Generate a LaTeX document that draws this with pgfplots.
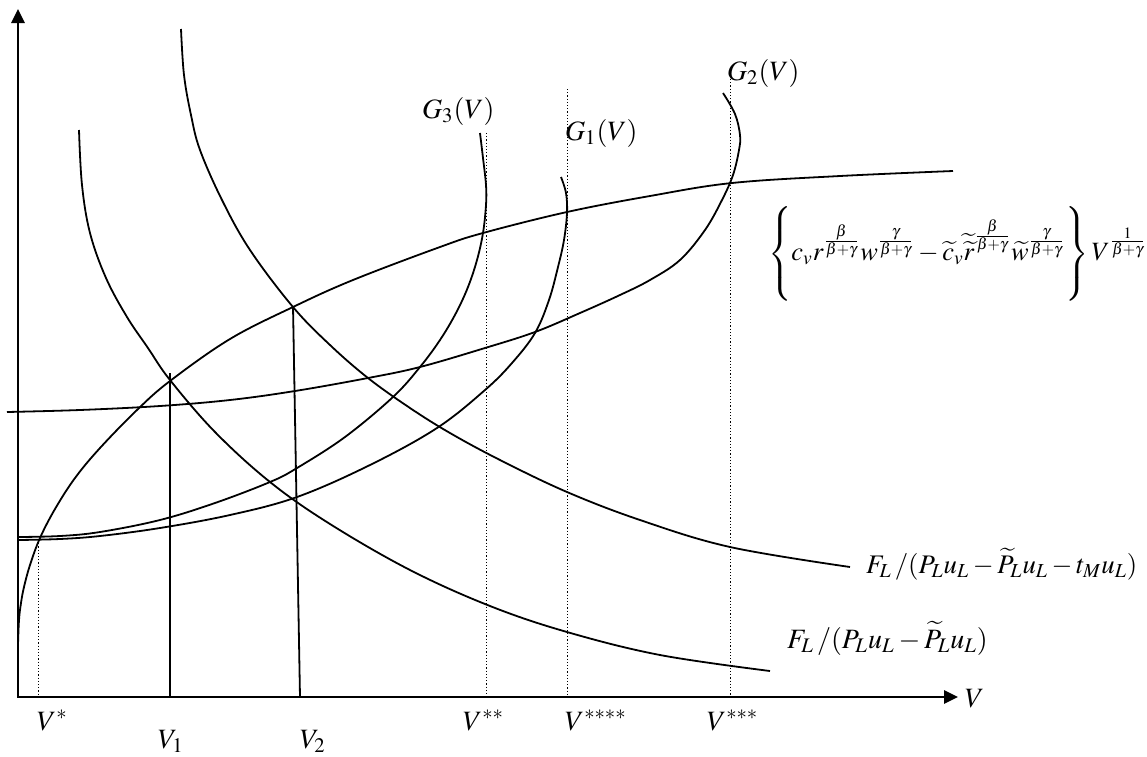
\documentclass[border=0pt]{standalone}
\usepackage{mathptmx}
\usepackage[no-math]{fontspec}
\setmainfont{Liberation Serif}
\usepackage{pgfplots}
\pgfplotsset{compat=1.18}
\usetikzlibrary{arrows.meta}

\tikzset{lbl/.style={font=\fontsize{14}{17}\selectfont, inner sep=0pt, outer sep=0pt}}

\begin{document}
\fontsize{14}{17}\selectfont
\begin{tikzpicture}
\begin{axis}[
  name=ax,
  hide axis,
  scale only axis,
  width=573.5pt, height=378pt,
  xmin=0, xmax=1147, ymin=0, ymax=756,
  y dir=reverse,
  clip=false,
  every axis plot/.append style={black, line width=0.9pt, mark=none},
]
% axes
\addplot[line width=1.3pt, {Triangle[length=7pt,width=6.5pt]}-{Triangle[length=7pt,width=6.5pt]}]
  coordinates {(18,9) (18,697) (958,697)};

% concave revenue curve
\addplot[smooth, tension=0.6] coordinates {
  (18,645) (19,620) (21,603) (24,587) (30,565) (40,538) (55,509) (75,478)
  (100,448) (137,410) (170,381) (230,339) (293,307) (353,280) (440,247)
  (483,233) (567,212) (650,196) (732,183) (840,176) (953,171)};

% G_2(V)
\addplot[smooth, tension=0.6] coordinates {
  (7,412) (80,410) (160,406) (230,400) (295,391) (368,378) (420,367)
  (485,348) (535,332) (580,313) (620,295) (650,280) (680,260) (705,230)
  (722,200) (733,175) (739,150) (740,135) (735,114) (723,93)};

% G_1(V)
\addplot[smooth, tension=0.6] coordinates {
  (18,540) (60,539) (100,536) (160,528) (230,515) (297,497) (370,465)
  (437,428) (485,390) (512,363) (535,333) (549,300) (558,267) (564,240)
  (567,213) (566,193) (561,177)};

% G_3(V)
\addplot[smooth, tension=0.6] coordinates {
  (18,537) (60,536) (100,532) (160,520) (215,503) (270,482) (297,468)
  (345,437) (393,397) (420,367) (440,340) (456,313) (468,287) (477,260)
  (483,233) (486,205) (486,185) (483,158) (480,133)};

% F_L/(P_L u_L - P~_L u_L)
\addplot[smooth, tension=0.6] coordinates {
  (79,130) (82,185) (90,233) (106,278) (127,317) (148,348) (170,380)
  (215,432) (270,482) (330,524) (410,570) (490,606) (567,632) (660,655)
  (770,671)};

% F_L/(P_L u_L - P~_L u_L - t_M u_L)
\addplot[smooth, tension=0.6] coordinates {
  (181,29) (184,75) (191,115) (200,150) (222,200) (250,250) (293,307)
  (330,345) (368,378) (410,408) (450,433) (500,460) (567,492) (640,520)
  (730,547) (850,567)};

% V_1 and V_2
\addplot[line width=0.9pt] coordinates {(170,373) (170,697)};
\addplot[line width=0.9pt] coordinates {(293,306) (300,697)};

% dotted guides
\addplot[line width=0.5pt, dash pattern=on 0.6pt off 1pt] coordinates {(38,540) (38,697)};
\addplot[line width=0.5pt, dash pattern=on 0.6pt off 1pt] coordinates {(486,133) (486,697)};
\addplot[line width=0.5pt, dash pattern=on 0.6pt off 1pt] coordinates {(567,89) (567,697)};
\addplot[line width=0.5pt, dash pattern=on 0.6pt off 1pt] coordinates {(730,79) (730,697)};

% curve labels
\node[lbl, anchor=base west] at (axis cs:422,118) {$G_3(V)$};
\node[lbl, anchor=base west] at (axis cs:565,140) {$G_1(V)$};
\node[lbl, anchor=base west] at (axis cs:727,80) {$G_2(V)$};
\node[lbl, font=\fontsize{13.2}{16}\selectfont, anchor=west] at (axis cs:768,254)
  {$\left\{\rule[-20pt]{0pt}{42pt} c_v r^{\frac{\beta}{\beta+\gamma}} w^{\frac{\gamma}{\beta+\gamma}}
   - \widetilde{c}_v \widetilde{\widetilde{r}}^{\frac{\beta}{\beta+\gamma}}
   \widetilde{w}^{\frac{\gamma}{\beta+\gamma}} \right\} V^{\frac{1}{\beta+\gamma}}$};
\node[lbl, font=\fontsize{13.4}{16}\selectfont, anchor=base west] at (axis cs:866,573)
  {$F_L\,/(P_L u_L - \widetilde{P}_L u_L - t_M u_L)$};
\node[lbl, anchor=base west] at (axis cs:787,648)
  {$F_L\,/(P_L u_L - \widetilde{P}_L u_L)$};

% axis labels
\node[lbl, anchor=base west] at (axis cs:965,707) {$V$};
\node[lbl, anchor=base west] at (axis cs:37,730) {$V^{*}$};
\node[lbl, anchor=base west] at (axis cs:158,748) {$V_1$};
\node[lbl, anchor=base west] at (axis cs:300,748) {$V_2$};
\node[lbl, anchor=base west] at (axis cs:463,730) {$V^{**}$};
\node[lbl, anchor=base west] at (axis cs:565,730) {$V^{****}$};
\node[lbl, anchor=base west] at (axis cs:707,730) {$V^{***}$};
\end{axis}
\pgfresetboundingbox
\path (ax.south west) rectangle (ax.north east);
\end{tikzpicture}
\end{document}
